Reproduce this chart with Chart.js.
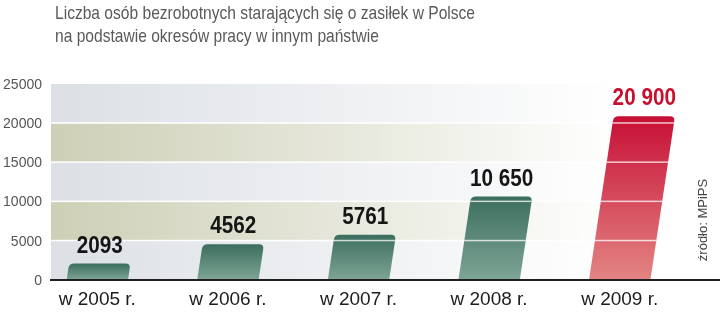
<!DOCTYPE html>
<html>
<head>
<meta charset="utf-8">
<script src="https://cdn.jsdelivr.net/npm/chart.js"></script>
<style type="text/css">
  body { margin: 0; background: #fff; }
  .chartBox { width: 720px; height: 320px; }
</style>
</head>
<body>
  <div class="chartBox">
    <canvas id="myChart" width="720" height="320"></canvas>
  </div>

  <script>
    const titleLines = ['Liczba osób bezrobotnych starających się o zasiłek w Polsce',
                        'na podstawie okresów pracy w innym państwie'];
    const years = ['w 2005 r.', 'w 2006 r.', 'w 2007 r.', 'w 2008 r.', 'w 2009 r.'];
    const counts = [2093, 4562, 5761, 10650, 20900];
    const countLabels = ['2093', '4562', '5761', '10 650', '20 900'];
    const yTicks = [0, 5000, 10000, 15000, 20000, 25000];
    const source = 'źródło: MPiPS';

    const slant = 0.15; // bars lean to the right

    // background bands, fading out to the right
    const bandsPlugin = {
      id: 'bands',
      beforeDatasetsDraw(chart) {
        const c = chart.ctx, y = chart.scales.y;
        const x0 = 51, x1 = 720;
        c.save();
        for (let i = 0; i < yTicks.length - 1; i++) {
          const top = y.getPixelForValue(yTicks[i + 1]);
          const bot = y.getPixelForValue(yTicks[i]);
          const col = i % 2 === 1 ? '205,207,182' : '220,224,229';
          const g = c.createLinearGradient(x0, 0, 620, 0);
          g.addColorStop(0, 'rgba(' + col + ',1)');
          g.addColorStop(0.5, 'rgba(' + col + ',0.5)');
          g.addColorStop(1, 'rgba(' + col + ',0)');
          c.fillStyle = g;
          c.fillRect(x0, top, x1 - x0, bot - top);
        }
        c.fillStyle = '#fff';
        for (let i = 1; i < yTicks.length - 1; i++) {
          const p = y.getPixelForValue(yTicks[i]);
          c.fillRect(x0, p - 1, x1 - x0, 1.5);
        }
        // y tick labels
        c.font = '14px "Liberation Sans", Arial, sans-serif';
        c.fillStyle = '#555';
        c.textAlign = 'right';
        c.textBaseline = 'middle';
        yTicks.forEach(v => c.fillText(String(v), 42, y.getPixelForValue(v) + 1));
        c.restore();
      }
    };

    // slanted bars, labels, axis line and texts
    const barsPlugin = {
      id: 'slantBars',
      afterDatasetsDraw(chart) {
        const c = chart.ctx, y = chart.scales.y, x = chart.scales.x;
        const meta = chart.getDatasetMeta(0);
        c.save();
        meta.data.forEach((bar, i) => {
          const p = bar.getProps(['x', 'y', 'base', 'width'], true);
          const h = p.base - p.y;
          const bl = p.x - p.width / 2 + 3;
          const br = bl + p.width;
          const dx = slant * h;
          const r = 5;
          const last = i === counts.length - 1;
          const g = c.createLinearGradient(0, p.y, 0, p.base);
          if (last) {
            g.addColorStop(0, '#c70f35');
            g.addColorStop(1, '#e38584');
          } else {
            g.addColorStop(0, '#3c6e5e');
            g.addColorStop(1, '#7fa596');
          }
          c.beginPath();
          c.moveTo(bl, p.base);
          c.lineTo(bl + dx - slant * r, p.y + r);
          c.quadraticCurveTo(bl + dx, p.y, bl + dx + r, p.y);
          c.lineTo(br + dx - r, p.y);
          c.quadraticCurveTo(br + dx, p.y, br + dx - slant * r, p.y + r);
          c.lineTo(br, p.base);
          c.closePath();
          c.fillStyle = g;
          c.fill();
          // white grid lines through the bar
          c.save();
          c.clip();
          c.fillStyle = 'rgba(255,255,255,0.75)';
          for (let k = 1; k < yTicks.length - 1; k++) {
            const yy = y.getPixelForValue(yTicks[k]);
            c.fillRect(bl - 40, yy - 1, p.width + 80, 1.5);
          }
          c.restore();
          // value label, a bit condensed
          c.save();
          c.font = 'bold 23px "Liberation Sans", Arial, sans-serif';
          c.fillStyle = last ? '#c8102e' : '#151515';
          c.textAlign = 'center';
          c.textBaseline = 'alphabetic';
          c.translate(bl + dx + p.width / 2, p.y - 11);
          c.scale(0.9, 1);
          c.fillText(countLabels[i], 0, 0);
          c.restore();
          // category label
          c.font = '19px "Liberation Sans", Arial, sans-serif';
          c.fillStyle = '#1c1c1c';
          c.textAlign = 'center';
          c.fillText(years[i], x.getPixelForValue(i) + 3, 305);
        });
        // axis line
        c.fillStyle = '#1f1f1f';
        c.fillRect(50, y.getPixelForValue(0) - 1, 670, 2);
        // title, squeezed to the reference width
        c.save();
        c.font = '19px "Liberation Sans", Arial, sans-serif';
        c.fillStyle = '#5a5a5a';
        c.textAlign = 'left';
        const k = 420 / c.measureText(titleLines[0]).width;
        c.translate(55, 0);
        c.scale(k, 1);
        c.fillText(titleLines[0], 0, 19);
        c.fillText(titleLines[1], 0, 42);
        c.restore();
        // source
        c.translate(707, 220);
        c.rotate(-Math.PI / 2);
        c.font = '13px "Liberation Sans", Arial, sans-serif';
        c.fillStyle = '#444';
        c.textAlign = 'center';
        c.fillText(source, 0, 0);
        c.restore();
      }
    };

    var ctx = document.getElementById('myChart').getContext('2d');
    var myChart = new Chart(ctx, {
      type: 'bar',
      data: {
        labels: years,
        datasets: [{
          data: counts,
          backgroundColor: 'rgba(0,0,0,0)',
          barPercentage: 0.47,
          categoryPercentage: 1
        }]
      },
      options: {
        responsive: false,
        animation: false,
        layout: { padding: { left: 29, right: 38, top: 84, bottom: 40 } },
        plugins: {
          legend: false,
          tooltip: { enabled: false }
        },
        scales: {
          x: { display: false },
          y: { display: false, min: 0, max: 25000 }
        }
      },
      plugins: [bandsPlugin, barsPlugin]
    });
  </script>

</body>
</html>
